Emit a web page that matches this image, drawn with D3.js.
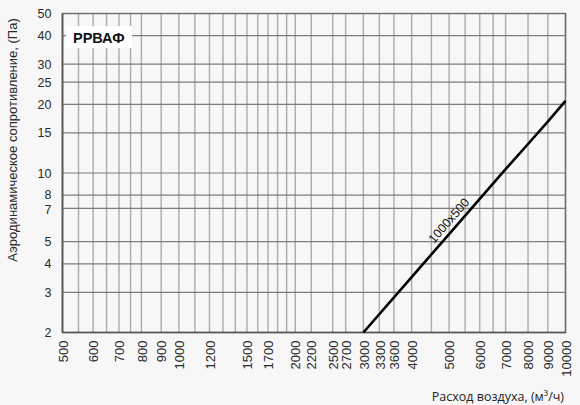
<!DOCTYPE html>
<html>
<head>
<meta charset="utf-8">
<script src="https://cdn.jsdelivr.net/npm/d3@7"></script>
<style>
  html, body { margin: 0; padding: 0; background: #f7f7f7; }
  svg { display: block; }
</style>
</head>
<body>
<svg id="chart" width="580" height="405"></svg>
<script>
// ---- data ----
const xTickLabels = [500, 600, 700, 800, 900, 1000, 1200, 1500, 1700, 2000, 2200, 2500, 2700, 3000, 3300, 3600, 4000, 5000, 6000, 7000, 8000, 9000, 10000];
const xGridValues = [500, 550, 600, 650, 700, 750, 800, 900, 1000, 1100, 1200, 1300, 1400, 1500, 1600, 1700, 1800, 1900, 2000, 2200, 2500, 2700, 3000, 3300, 3600, 4000, 4500, 5000, 5500, 6000, 6500, 7000, 8000, 9000, 10000];
const yTickLabels = [2, 3, 4, 5, 7, 8, 10, 15, 20, 25, 30, 40, 50];
const seriesName = "1000x500";
const flow = [3000, 4000, 5000, 6000, 7000, 8000, 9000, 10000];
const pressure = [2, 3.5, 5.4, 7.7, 10.4, 13.4, 16.8, 20.7];
const chartTitle = "РРВАФ";
const xTitle = "Расход воздуха, (м³/ч)";
const yTitle = "Аэродинамическое сопротивление, (Па)";

// ---- layout ----
const svg = d3.select("#chart");
const L = 62.5, R = 565.5, T = 13.5, B = 332.5;
const x = d3.scaleLog().domain([500, 10000]).range([L, R]);
const y = d3.scaleLog().domain([2, 50]).range([B, T]);
const font = "'Liberation Sans', Arial, sans-serif";

svg.append("rect").attr("width", 580).attr("height", 405).attr("fill", "#f7f7f7");

// vertical grid
svg.append("g").selectAll("line").data(xGridValues).join("line")
  .attr("x1", d => x(d)).attr("x2", d => x(d))
  .attr("y1", T).attr("y2", B)
  .attr("stroke", "#ababab").attr("stroke-width", 1.4);

// horizontal grid
svg.append("g").selectAll("line").data(yTickLabels).join("line")
  .attr("x1", L).attr("x2", R)
  .attr("y1", d => y(d)).attr("y2", d => y(d))
  .attr("stroke", "#7d7d7d").attr("stroke-width", 1.2);

// frame
svg.append("rect").attr("x", L).attr("y", T).attr("width", R - L).attr("height", B - T)
  .attr("fill", "none").attr("stroke", "#6a6a6a").attr("stroke-width", 1.4);
svg.append("line").attr("x1", L).attr("x2", L).attr("y1", T).attr("y2", B)
  .attr("stroke", "#555").attr("stroke-width", 1.6);
svg.append("line").attr("x1", L).attr("x2", R).attr("y1", B).attr("y2", B)
  .attr("stroke", "#555").attr("stroke-width", 1.6);

// y axis labels with simple collision avoidance
const yFont = 12.5, minGap = 14.6;
const yPos = yTickLabels.map(v => ({v, p: y(v)})).sort((a, b) => a.p - b.p);
for (let iter = 0; iter < 10; iter++) {
  for (let i = 1; i < yPos.length; i++) {
    const gap = yPos[i].p - yPos[i - 1].p;
    if (gap < minGap) {
      const push = (minGap - gap) / 2;
      yPos[i].p += push; yPos[i - 1].p -= push;
    }
  }
}
svg.append("g").selectAll("text").data(yPos).join("text")
  .attr("x", L - 11).attr("y", d => d.p).attr("dy", "0.36em")
  .attr("text-anchor", "end")
  .attr("font-family", font).attr("font-size", yFont).attr("fill", "#2a2a2a")
  .text(d => d3.format("d")(d.v));

// x axis labels (rotated)
const xAxis = d3.axisBottom(x).tickValues(xTickLabels).tickFormat(d3.format("d")).tickSize(0).tickPadding(0);
const gx = svg.append("g").attr("transform", `translate(0,${B})`).call(xAxis);
gx.select(".domain").remove();
gx.selectAll("text")
  .attr("font-family", font).attr("font-size", 13).attr("fill", "#2a2a2a")
  .attr("transform", "rotate(-90)")
  .attr("text-anchor", "end")
  .attr("x", -8).attr("y", 0).attr("dy", "0.36em");

// series line
const pts = flow.map((f, i) => [f, pressure[i]]);
const line = d3.line().x(d => x(d[0])).y(d => y(d[1]));
svg.append("path").datum(pts).attr("d", line)
  .attr("fill", "none").attr("stroke", "#000").attr("stroke-width", 2.6);

// series label along line
const p0 = pts[0], p1 = pts[pts.length - 1];
const ang = Math.atan2(y(p1[1]) - y(p0[1]), x(p1[0]) - x(p0[0])) * 180 / Math.PI;
const labQ = 5200;
const labP = Math.exp(d3.scaleLinear().domain([Math.log(p0[0]), Math.log(p1[0])]).range([Math.log(p0[1]), Math.log(p1[1])])(Math.log(labQ)));
svg.append("text")
  .attr("transform", `translate(${x(labQ)},${y(labP)}) rotate(${ang})`)
  .attr("text-anchor", "middle").attr("dy", -5)
  .attr("font-family", font).attr("font-size", 12.5).attr("fill", "#111")
  .text(seriesName);

// title box
svg.append("rect").attr("x", 66).attr("y", 26).attr("width", 66).attr("height", 22).attr("fill", "#ffffff");
svg.append("text").attr("x", 73).attr("y", 43)
  .attr("font-family", font).attr("font-size", 14.5).attr("font-weight", "bold").attr("fill", "#111")
  .text(chartTitle);

// axis titles
svg.append("text").attr("x", 564).attr("y", 401).attr("text-anchor", "end")
  .attr("font-family", "'Open Sans', sans-serif").attr("font-size", 12.5).attr("fill", "#222")
  .text(xTitle);
svg.append("text").attr("transform", "translate(17,140) rotate(-90)").attr("text-anchor", "middle")
  .attr("font-family", font).attr("font-size", 13).attr("fill", "#2a2a2a")
  .text(yTitle);
</script>
</body>
</html>
